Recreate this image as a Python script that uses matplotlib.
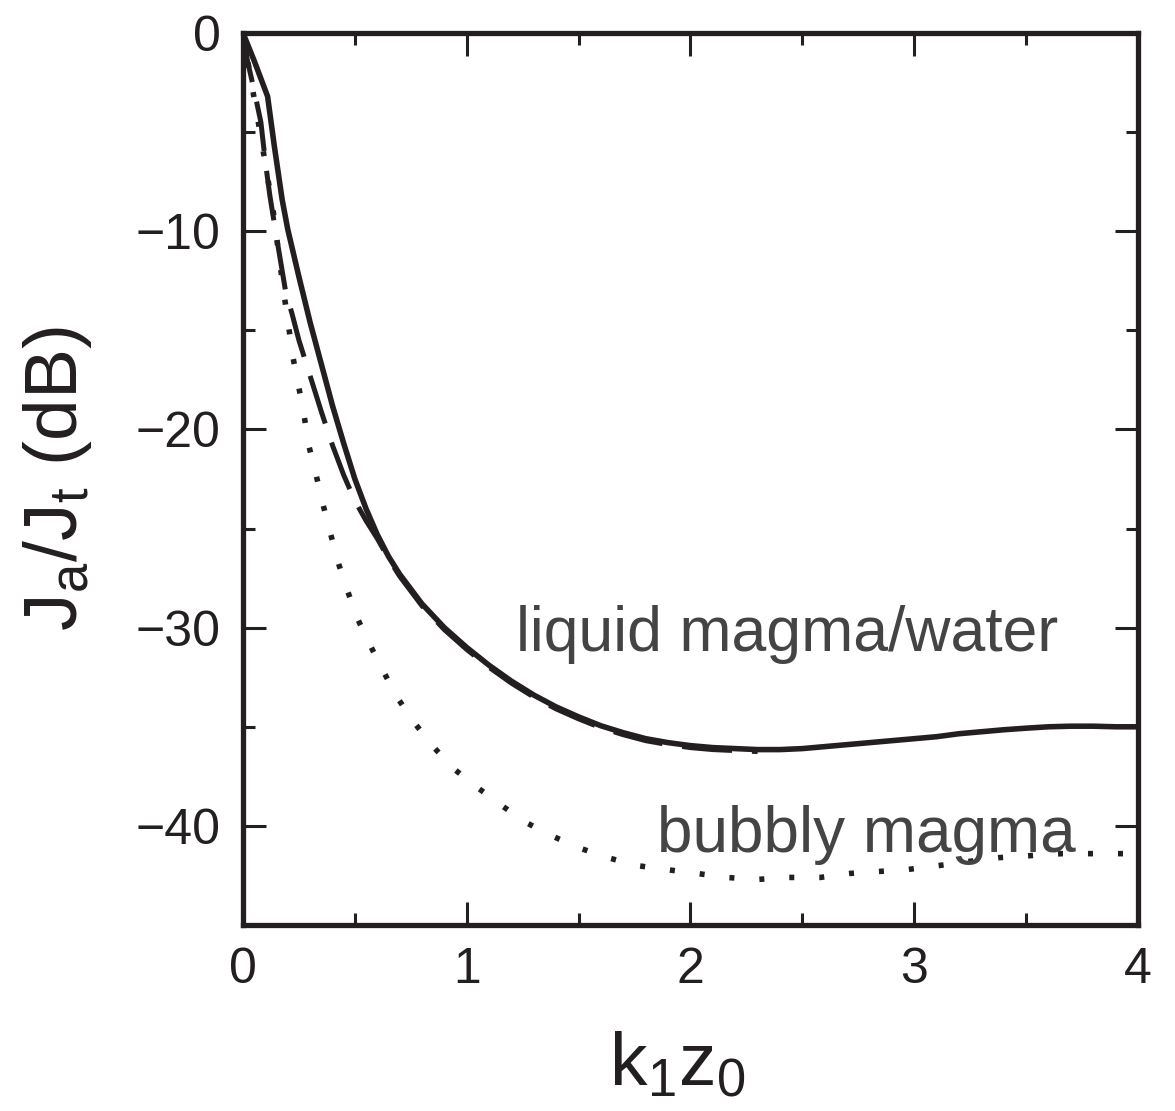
import matplotlib
matplotlib.use("Agg")
import matplotlib.pyplot as plt
from matplotlib.ticker import MultipleLocator

plt.rcParams['font.family'] = ['Liberation Sans', 'DejaVu Sans']
plt.rcParams['mathtext.fontset'] = 'custom'
plt.rcParams['mathtext.rm'] = 'Liberation Sans'
plt.rcParams['mathtext.it'] = 'Liberation Sans'
plt.rcParams['mathtext.bf'] = 'Liberation Sans:bold'

# Data
x_solid = [0.0, 0.05, 0.11, 0.14, 0.175, 0.2, 0.25, 0.3, 0.35, 0.4, 0.45, 0.5, 0.55, 0.6,
           0.65, 0.7, 0.8, 0.9, 1.0, 1.1, 1.2, 1.3, 1.4, 1.5, 1.6, 1.7, 1.8, 1.9, 2.0,
           2.1, 2.2, 2.3, 2.4, 2.5, 2.6, 2.7, 2.8, 2.9, 3.0, 3.1, 3.2, 3.3, 3.4, 3.5,
           3.6, 3.7, 3.8, 3.9, 4.0]
y_solid = [0.0, -1.4, -3.2, -5.7, -8.4, -9.9, -12.3, -14.6, -16.7, -18.8, -20.7, -22.5, -24.0, -25.3,
           -26.4, -27.3, -28.8, -30.0, -31.0, -31.9, -32.7, -33.4, -34.0, -34.5, -34.95, -35.3, -35.6, -35.8, -35.95,
           -36.05, -36.1, -36.15, -36.15, -36.1, -36.0, -35.9, -35.8, -35.7, -35.6, -35.5, -35.35, -35.25, -35.15, -35.07,
           -35.0, -34.97, -34.97, -35.0, -35.0]

x_dash = [0.0, 0.02, 0.05, 0.08, 0.1, 0.12, 0.15, 0.19, 0.22, 0.25, 0.3, 0.35, 0.4, 0.45, 0.5,
          0.55, 0.6, 0.65, 0.7, 0.8, 0.9, 1.0, 1.1, 1.2, 1.3, 1.4, 1.5, 1.6, 1.7, 1.8, 1.9,
          2.0, 2.1, 2.2, 2.3]
y_dash = [0.0, -1.4, -2.9, -4.5, -6.5, -8.2, -10.3, -13.0, -14.2, -15.5, -17.3, -19.1, -20.8, -22.3, -23.6,
          -24.6, -25.5, -26.5, -27.4, -28.9, -30.1, -31.1, -32.0, -32.8, -33.5, -34.1, -34.6, -35.05, -35.4, -35.7, -35.9,
          -36.05, -36.15, -36.2, -36.25]

x_dot = [0.0, 0.03, 0.07, 0.1, 0.134, 0.18, 0.224, 0.25, 0.273, 0.296, 0.327, 0.358, 0.39, 0.425,
         0.466, 0.51, 0.569, 0.627, 0.694, 0.766, 0.85, 0.94, 1.04, 1.16, 1.26, 1.38, 1.50, 1.63,
         1.76, 1.89, 2.03, 2.16, 2.30, 2.44, 2.58, 2.71, 2.84, 2.97, 3.11, 3.24, 3.38, 3.52, 3.66,
         3.79, 3.92, 4.0]
y_dot = [0.0, -2.0, -4.6, -6.6, -8.9, -12.9, -16.4, -17.9, -19.3, -20.9, -22.3, -23.8, -25.2, -26.7,
         -28.1, -29.5, -30.9, -32.2, -33.6, -34.8, -36.0, -37.1, -38.0, -39.0, -39.8, -40.5, -41.1, -41.6,
         -42.0, -42.2, -42.4, -42.6, -42.7, -42.6, -42.6, -42.4, -42.3, -42.2, -42.0, -41.8, -41.6, -41.5, -41.4,
         -41.4, -41.4, -41.4]

x_ticks = [0, 1, 2, 3, 4]
y_ticks = [0, -10, -20, -30, -40]
label_liquid = "liquid magma/water"
label_bubbly = "bubbly magma"

ink = '#231f20'

fig = plt.figure(figsize=(11.75, 11.11), dpi=100)
ax = fig.add_axes([0.2068, 0.1674, 0.7617, 0.8029])

ax.plot(x_dot, y_dot, color=ink, lw=4.0, linestyle=(0, (0.9, 4.5)))
ax.plot(x_dash, y_dash, color=ink, lw=3.6, linestyle=(0, (10, 4.0)))
ax.plot(x_solid, y_solid, color=ink, lw=4.0, solid_capstyle='butt', solid_joinstyle='round')

ax.set_xlim(0, 4)
ax.set_ylim(-45, 0)
ax.set_xticks(x_ticks)
ax.set_yticks(y_ticks)
ax.xaxis.set_minor_locator(MultipleLocator(0.5))
ax.yaxis.set_minor_locator(MultipleLocator(5))
ax.tick_params(which='both', direction='in', top=True, right=True, color=ink, width=2.2,
               labelsize=36, labelcolor=ink)
ax.tick_params(which='major', length=16.5, pad=16)
ax.tick_params(which='minor', length=8.6)
for s in ax.spines.values():
    s.set_linewidth(3.8)
    s.set_color(ink)

ax.set_xlabel(r'k$_\mathrm{1}$z$_\mathrm{0}$', fontsize=54, color=ink, labelpad=28)
ax.xaxis.set_label_coords(0.485, -0.118)
ax.set_ylabel(r'J$_\mathrm{a}$/J$_\mathrm{t}$ (dB)', fontsize=54, color=ink, labelpad=30)

ax.text(1.22, -31.2, label_liquid, fontsize=45, color='#444444', ha='left', va='baseline')
ax.text(1.85, -41.3, label_bubbly, fontsize=46, color='#444444', ha='left', va='baseline')

fig.savefig('out.png', dpi=100)
